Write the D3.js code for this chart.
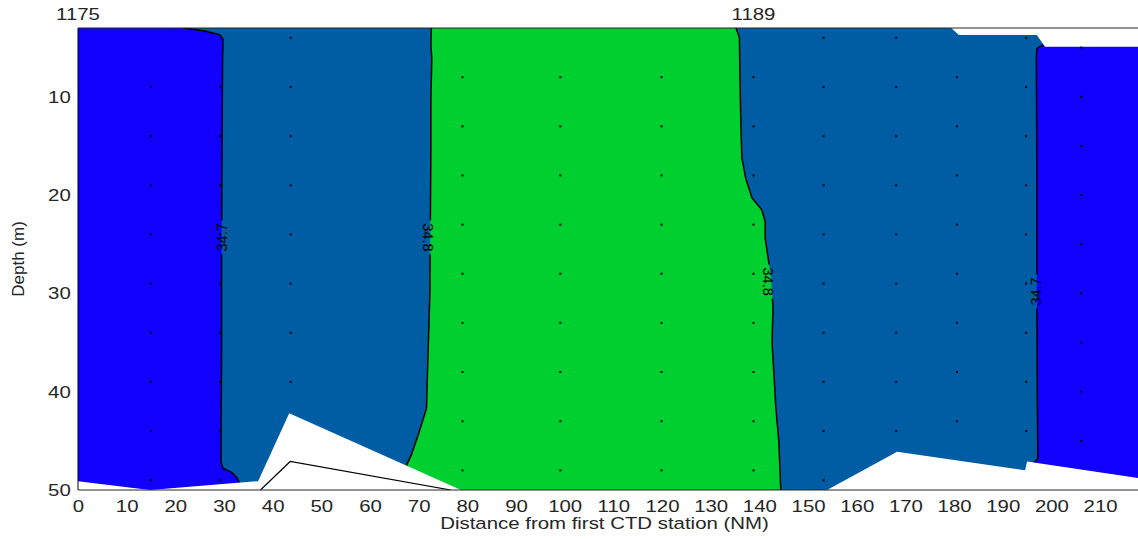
<!DOCTYPE html>
<html lang="en">

<head>
  <meta charset="utf-8">
  <title>CTD salinity section</title>
  <script src="https://d3js.org/d3.v7.min.js"></script>
  <style>
    body { margin: 0; background: #fff; }
    text { font-family: "Liberation Sans", Arial, sans-serif; fill: #262626; }
  </style>
</head>

<body>
  <script type="text/javascript">
  // CTD stations: distance (NM) and the sampled depths (m) at each
  var stationX = [15, 29.2, 43.7, 79, 99.1, 119.9, 138.8, 153.2, 168.1, 180.6, 194.8, 206.1];
  var sampleDepths = [
    [9, 14, 19, 24, 29, 34, 39, 44, 49],
    [9, 14, 19, 24, 29, 34, 39, 44, 49],
    [4, 9, 14, 19, 24, 29, 34, 39],
    [8, 13, 18, 23, 28, 33, 38, 43, 48],
    [8, 13, 18, 23, 28, 33, 38, 43, 48],
    [8, 13, 18, 23, 28, 33, 38, 43, 48],
    [8, 13, 18, 23, 28, 33, 38, 43, 48],
    [4, 9, 14, 19, 24, 29, 34, 39, 44, 49],
    [4, 9, 14, 19, 24, 29, 34, 39, 44],
    [8, 13, 18, 23, 28, 33, 38, 43],
    [4, 9, 14, 19, 24, 29, 34, 39, 44],
    [5, 10, 15, 20, 25, 30, 35, 40, 45]
  ];
  var stationNames = ['1175', '1189'];
  var stationNameX = [0, 138.8];

  // salinity contours [NM, depth]
  var c347West = [[21.6, 3.0], [26.1, 3.3], [29.2, 3.7], [29.8, 4.2], [29.7, 6.3], [29.6, 15.4],
    [29.5, 25.6], [29.5, 35.8], [29.4, 44.9], [29.4, 47.2], [29.8, 47.8], [31.6, 48.2],
    [32.7, 48.8], [33.3, 49.4]];
  var c348West = [[72.6, 3.0], [72.5, 4.7], [72.7, 6.1], [72.5, 10.3], [72.5, 15.4], [72.4, 23.0],
    [72.3, 29.9], [71.9, 36.6], [71.6, 41.7], [69.9, 44.4], [68.5, 46.4], [67.5, 47.5], [65.7, 49.2]];
  var c348East = [[135.2, 3.0], [135.9, 4.0], [136.0, 7.8], [136.2, 12.9], [136.4, 16.2], [137.2, 18.3],
    [138.5, 20.3], [140.5, 21.5], [141.2, 22.7], [141.2, 24.4], [141.8, 26.4], [142.4, 28.4],
    [142.8, 31.5], [142.6, 35.0], [143.0, 38.3], [143.4, 41.7], [144.0, 45.1], [144.4, 50.0]];
  var c347East = [[198.3, 4.7], [197.0, 5.1], [196.9, 6.1], [197.0, 16.3], [197.0, 29.8],
    [197.1, 40.0], [197.2, 46.8], [196.4, 47.2]];
  var contourValues = ['34.7', '34.8', '34.8', '34.7'];
  var labelPos = [[29.6, 24.3], [71.9, 24.3], [141.8, 28.8], [196.9, 29.8]];
  var labelRotate = [-90, 90, 90, -90];

  // limits of the gridded data and the sea floor
  var topEdge = [[179.4, 3.0], [181.0, 3.7], [197.0, 3.7], [198.7, 4.9], [218, 4.9]];
  var bottomEdge = [[0, 49.1], [14.8, 50], [37.0, 49.1], [43.4, 42.2], [78.7, 50], [153.9, 50],
    [168.3, 46.1], [194.6, 48.0], [195.0, 47.1], [218, 48.8]];
  var seaFloor = [[37.5, 50], [43.6, 47.1], [76.6, 50]];

  var xTicks = [0, 10, 20, 30, 40, 50, 60, 70, 80, 90, 100, 110, 120, 130, 140, 150, 160, 170, 180, 190, 200, 210];
  var yTicks = [10, 20, 30, 40, 50];

  var colWest = '#1100fe', colMid = '#005da3', colCore = '#00cf30';

  var w = 1138, h = 539;
  var margin = {top: 28, right: 0, bottom: 49, left: 78};
  var innerW = w - margin.left - margin.right + 1,
    innerH = h - margin.top - margin.bottom;

  var x = d3.scaleLinear().domain([0, 218]).range([0, innerW]);
  var y = d3.scaleLinear().domain([3, 50]).range([0, innerH]);
  var line = d3.line()
    .x(function(d) { return x(d[0]); })
    .y(function(d) { return y(d[1]); });

  var svg = d3.select('body').append('svg')
      .attr('width', w)
      .attr('height', h);
  var defs = svg.append('defs');
  defs.append('clipPath').attr('id', 'plotclip')
    .append('rect').attr('width', innerW).attr('height', innerH);

  var g = svg.append('g')
      .attr('transform', 'translate(' + [margin.left, margin.top] + ')');
  var plot = g.append('g').attr('clip-path', 'url(#plotclip)');

  // the whole section in the middle colour, then the other bands over it
  plot.append('rect').attr('width', innerW).attr('height', innerH).style('fill', colMid);

  var last = function(a) { return a[a.length - 1]; };
  var westPoly = [[-2, 2]].concat(c347West, [[last(c347West)[0], 53], [-2, 53]]);
  var corePoly = c348West.concat([[last(c348West)[0], 53], [last(c348East)[0], 53]], c348East.slice().reverse());
  var eastPoly = [[c347East[0][0], 2]].concat(c347East, [[last(c347East)[0], 53], [220, 53], [220, 2]]);

  plot.append('path').datum(westPoly).style('fill', colWest).attr('d', line);
  plot.append('path').datum(corePoly).style('fill', colCore).attr('d', line);
  plot.append('path').datum(eastPoly).style('fill', colWest).attr('d', line);

  // contour lines, with a gap where the label sits
  var gapMask = defs.append('mask').attr('id', 'labelgap');
  gapMask.append('rect').attr('x', -10).attr('y', -10).attr('width', innerW + 20).attr('height', innerH + 20)
    .style('fill', '#fff');
  gapMask.selectAll('rect.gap').data(labelPos).enter().append('rect')
    .attr('class', 'gap')
    .attr('x', function(d) { return x(d[0]) - 8; })
    .attr('y', function(d) { return y(d[1]) - 17; })
    .attr('width', 16).attr('height', 34)
    .style('fill', '#000');

  plot.append('g').attr('mask', 'url(#labelgap)')
    .selectAll('path').data([c347West, c348West, c348East, c347East]).enter().append('path')
    .style('fill', 'none')
    .style('stroke', '#000')
    .style('stroke-width', 1.5)
    .attr('d', line);

  // blank out where there is no data
  plot.append('path')
    .datum([[topEdge[0][0], 2]].concat(topEdge, [[220, topEdge[topEdge.length - 1][1]], [220, 2]]))
    .style('fill', '#fff').attr('d', line);
  plot.append('path')
    .datum([[-2, bottomEdge[0][1]]].concat(bottomEdge, [[220, last(bottomEdge)[1]], [220, 53], [-2, 53]]))
    .style('fill', '#fff').attr('d', line);

  plot.append('path').datum(seaFloor)
    .style('fill', 'none').style('stroke', '#000').style('stroke-width', 1.2)
    .attr('d', line);

  // sample points
  var pts = [];
  stationX.forEach(function(sx, i) {
    sampleDepths[i].forEach(function(dep) { pts.push([sx, dep]); });
  });
  plot.selectAll('rect.pt').data(pts).enter().append('rect')
    .attr('class', 'pt')
    .attr('x', function(d) { return x(d[0]) - 1; })
    .attr('y', function(d) { return y(d[1]) - 1; })
    .attr('width', 2).attr('height', 2)
    .style('fill', '#000');

  // contour labels
  plot.selectAll('text.clab').data(labelPos).enter().append('text')
    .attr('class', 'clab')
    .attr('transform', function(d, i) {
      return 'translate(' + [x(d[0]), y(d[1])] + ') rotate(' + labelRotate[i] + ')';
    })
    .attr('text-anchor', 'middle')
    .attr('dy', '0.35em')
    .style('font-size', '14.5px')
    .style('fill', '#000')
    .text(function(d, i) { return contourValues[i]; });

  // frame
  g.append('line').attr('x1', 0).attr('x2', innerW).attr('y1', 0).attr('y2', 0)
    .style('stroke', '#262626').style('stroke-width', 1);
  g.append('line').attr('x1', 0).attr('x2', innerW).attr('y1', innerH).attr('y2', innerH)
    .style('stroke', '#262626').style('stroke-width', 1);
  g.append('line').attr('x1', 0).attr('x2', 0).attr('y1', 0).attr('y2', innerH)
    .style('stroke', '#000').style('stroke-width', 1);

  // axes (text only, tick marks hidden under the fill)
  var xAxis = g.append('g')
    .attr('transform', 'translate(0,' + innerH + ')')
    .call(d3.axisBottom(x).tickValues(xTicks).tickSize(0).tickPadding(10));
  var yAxis = g.append('g')
    .call(d3.axisLeft(y).tickValues(yTicks).tickSize(0).tickPadding(6));
  [xAxis, yAxis].forEach(function(ax) {
    ax.select('.domain').remove();
    ax.selectAll('text')
      .style('font-size', '17px')
      .style('fill', '#262626')
      .attr('font-family', null)
      .attr('transform', 'scale(1.2,1)');
  });

  // station names along the top
  g.selectAll('text.stn').data(stationNames).enter().append('text')
    .attr('class', 'stn')
    .attr('transform', function(d, i) { return 'translate(' + [x(stationNameX[i]), -8] + ') scale(1.2,1)'; })
    .attr('text-anchor', 'middle')
    .style('font-size', '17px')
    .text(function(d) { return d; });

  g.append('text')
    .attr('transform', 'translate(' + [innerW / 2 - 4, innerH + 39] + ') scale(1.2,1)')
    .attr('text-anchor', 'middle')
    .style('font-size', '17px')
    .text('Distance from first CTD station (NM)');

  g.append('text')
    .attr('transform', 'translate(' + [-54, innerH / 2] + ') rotate(-90)')
    .attr('text-anchor', 'middle')
    .style('font-size', '17px')
    .text('Depth (m)');
  </script>
</body>

</html>
